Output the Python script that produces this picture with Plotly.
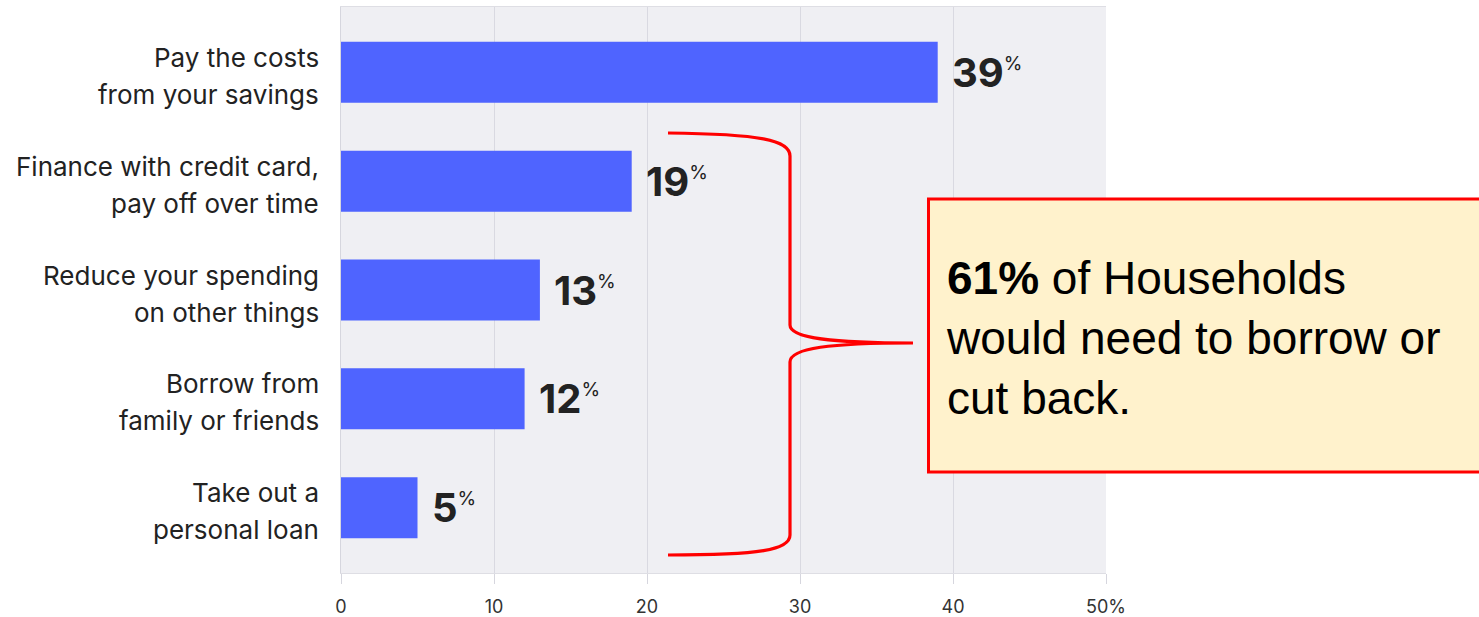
import plotly.graph_objects as go

# ---------------- data ----------------
categories = [
    "Pay the costs\nfrom your savings",
    "Finance with credit card,\npay off over time",
    "Reduce your spending\non other things",
    "Borrow from\nfamily or friends",
    "Take out a\npersonal loan",
]
values = [39, 19, 13, 12, 5]
x_tick_values = [0, 10, 20, 30, 40, 50]
x_tick_labels = ["0", "10", "20", "30", "40", "50%"]
callout_bold = "61%"
callout_lines = ["of Households", "would need to borrow or", "cut back."]

# ---------------- layout geometry ----------------
W, H = 1479, 617
L, R, T, B = 341, W - 1106, 7, H - 573
PW, PH = W - L - R, H - T - B


def px(x):
    return (x - L) / PW


def py(y):
    return (H - B - y) / PH


BAR_COLOR = "#4F64FF"
TEXT_COLOR = "#222222"
LABEL_FONT = "Inter"

fig = go.Figure()
fig.add_trace(go.Bar(
    x=values,
    y=categories,
    orientation="h",
    width=0.56,
    marker=dict(color=BAR_COLOR, line=dict(width=0)),
    hoverinfo="skip",
))

annotations = []
# category labels (two lines each, right aligned)
for cat in categories:
    lines = cat.split("\n")
    for i, line in enumerate(lines):
        annotations.append(dict(
            x=0, xref="paper", y=cat, yref="y",
            text=line, showarrow=False,
            xanchor="right", yanchor="middle",
            xshift=-20, yshift=(15 if i == 0 else -22),
            font=dict(family=LABEL_FONT, size=26, color=TEXT_COLOR),
        ))

# value labels
for cat, v in zip(categories, values):
    annotations.append(dict(
        x=v, xref="x", y=cat, yref="y",
        text=f"<b>{v}</b><sup><span style='font-size:19px'>%</span></sup>",
        showarrow=False, xanchor="left", yanchor="middle",
        xshift=12, yshift=0,
        font=dict(family=LABEL_FONT, size=40, color=TEXT_COLOR),
    ))

# callout text
annotations.append(dict(
    x=px(944), xref="paper", y=py(338), yref="paper",
    text=f"<b>{callout_bold}</b> " + "<br>".join(callout_lines),
    showarrow=False, xanchor="left", yanchor="middle", align="left",
    font=dict(family="Liberation Sans", size=46, color="#000000"),
))

# brace path (pixel points converted to paper coordinates)
def P(x, y):
    return f"{px(x):.5f},{py(y):.5f}"

brace = (
    f"M {P(668,133)} C {P(760,134)} {P(790,140)} {P(790,156)} "
    f"L {P(790,325)} C {P(790,338)} {P(830,343)} {P(913,343)} "
    f"C {P(830,343)} {P(790,348)} {P(790,362)} "
    f"L {P(790,535)} C {P(790,550)} {P(760,555)} {P(668,555)}"
)

shapes = [
    dict(type="path", xref="paper", yref="paper", path=brace,
         line=dict(color="#FF0000", width=3.2), layer="above"),
    dict(type="rect", xref="paper", yref="paper",
         x0=px(928.5), x1=px(1500), y0=py(472), y1=py(199),
         fillcolor="#FFF2CC", line=dict(color="#FF0000", width=3), layer="above"),
]

fig.update_layout(
    width=W, height=H,
    margin=dict(l=L, r=R, t=T, b=B, pad=0, autoexpand=False),
    paper_bgcolor="white",
    plot_bgcolor="#EFEFF3",
    showlegend=False,
    annotations=annotations,
    shapes=shapes,
    xaxis=dict(
        range=[0, 50],
        automargin=False,
        tickvals=x_tick_values,
        ticktext=x_tick_labels,
        ticks="outside", ticklen=10, tickcolor="#D6D6DE", tickwidth=1,
        ticklabelstandoff=7,
        tickfont=dict(family=LABEL_FONT, size=18, color="#333333"),
        showgrid=True, gridcolor="#D9D9E1", gridwidth=1,
        zeroline=False,
        showline=True, linecolor="#DEDEE4", linewidth=1, mirror=True,
        fixedrange=True,
    ),
    yaxis=dict(
        type="category",
        automargin=False,
        categoryorder="array", categoryarray=categories,
        range=[4.6, -0.6],
        showticklabels=False, ticks="",
        showgrid=False, zeroline=False,
        showline=True, linecolor="#D6D6DE", linewidth=1,
        fixedrange=True,
    ),
)

fig.write_html("out.html", include_plotlyjs=True)
